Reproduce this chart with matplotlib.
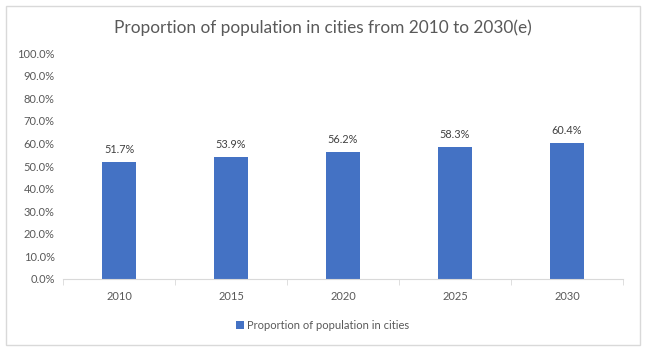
import numpy as np
import matplotlib.pyplot as plt
from matplotlib.patches import Rectangle
from matplotlib.ticker import PercentFormatter

plt.rcParams['font.family'] = ['Lato', 'DejaVu Sans']

years = ['2010', '2015', '2020', '2025', '2030']
share = [51.7, 53.9, 56.2, 58.3, 60.4]
series_name = 'Proportion of population in cities'

bar_color = '#4472C4'
text_color = '#595959'
grid_color = '#D9D9D9'

fig = plt.figure(figsize=(6.45, 3.49), dpi=100)
fig.patches.append(Rectangle((0.009, 0.012), 0.983, 0.972, transform=fig.transFigure,
                             fill=False, edgecolor=grid_color, linewidth=1))

ax = fig.add_axes([0.0977, 0.2006, 0.8683, 0.6474])
x = np.arange(len(years))
bars = ax.bar(x, share, width=0.31, color=bar_color, label=series_name)

for xi, v in zip(x, share):
    ax.annotate(f'{v:.1f}%', (xi, v), xytext=(0, 5), textcoords='offset points',
                ha='center', va='bottom', fontsize=7.8, color='#404040')

ax.set_xlim(-0.5, len(years) - 0.5)
ax.set_ylim(0, 100)
ax.set_yticks(np.arange(0, 101, 10))
ax.yaxis.set_major_formatter(PercentFormatter(decimals=1))
ax.set_xticks(x)
ax.set_xticklabels(years)
ax.set_xticks(np.arange(-0.5, len(years), 1), minor=True)

for s in ['top', 'right', 'left']:
    ax.spines[s].set_visible(False)
ax.spines['bottom'].set_color(grid_color)
ax.tick_params(axis='y', length=0, labelsize=8, labelcolor=text_color, pad=6)
ax.tick_params(axis='x', which='major', length=0, labelsize=8, labelcolor=text_color, pad=9)
ax.tick_params(axis='x', which='minor', length=4, color=grid_color)

fig.text(0.5, 0.922, 'Proportion of population in cities from 2010 to 2030(e)',
         ha='center', va='center', fontsize=12.4, color=text_color)

fig.legend(handles=[bars], labels=[series_name], loc='center', bbox_to_anchor=(0.5, 0.067),
           frameon=False, fontsize=8, labelcolor=text_color, handlelength=0.7,
           handleheight=0.7, handletextpad=0.3)

fig.savefig('out.png', dpi=100)
